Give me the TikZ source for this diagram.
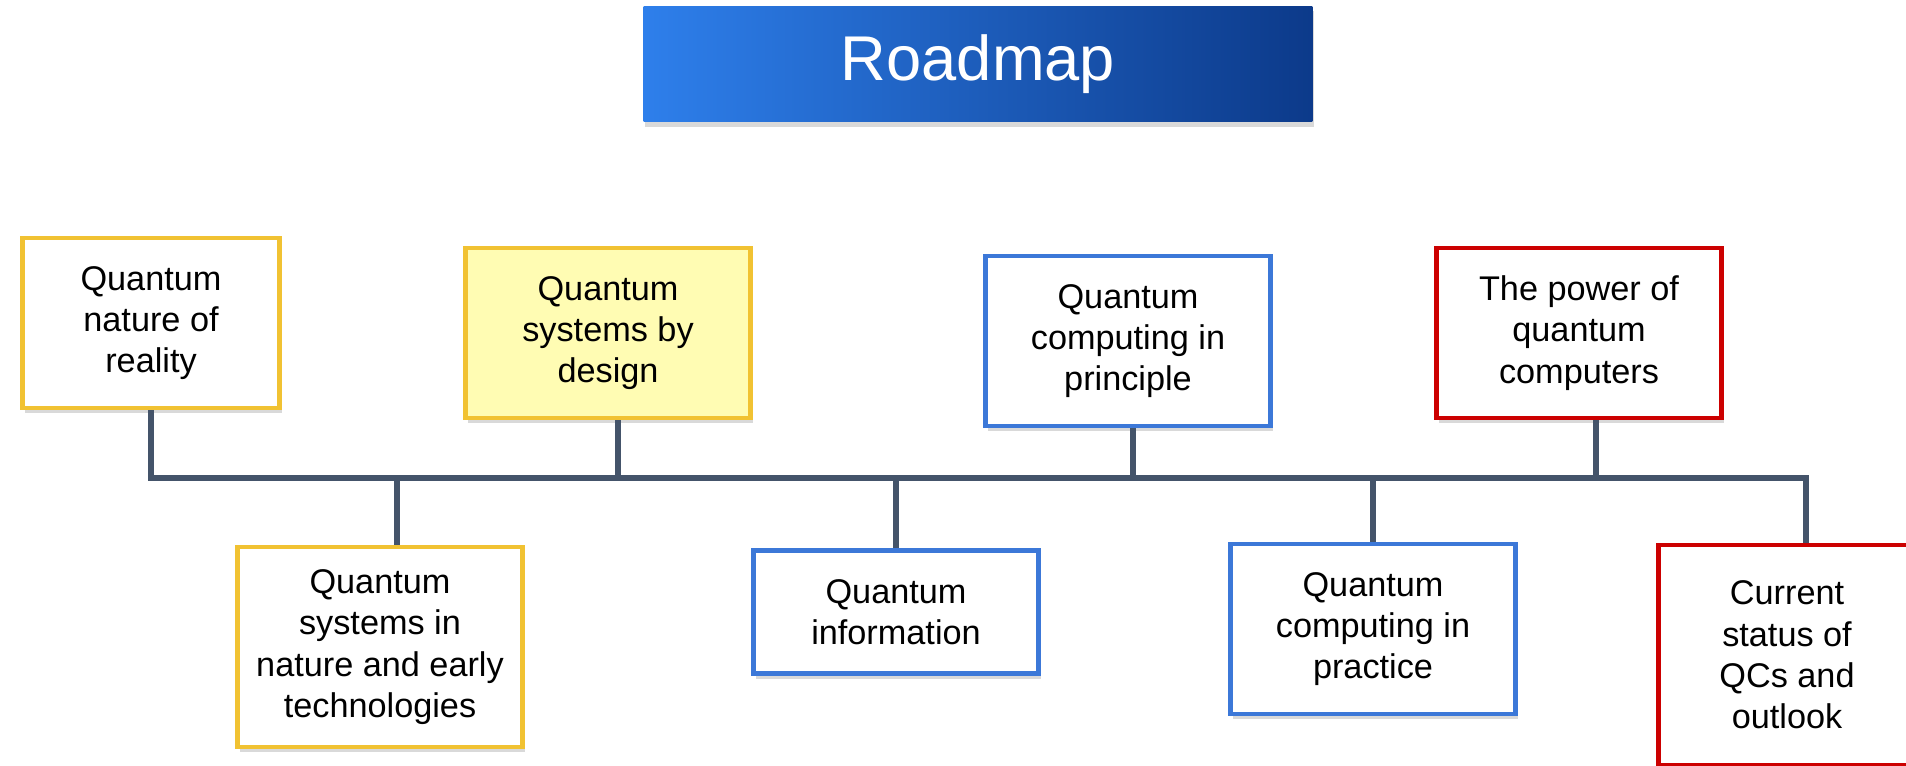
\documentclass[tikz,border=0pt]{standalone}
\usepackage{fontspec}
\setmainfont{Liberation Sans}
\usetikzlibrary{shadows}

\definecolor{roadgold}{HTML}{F1C232}
\definecolor{roadpale}{HTML}{FFFCB3}
\definecolor{roadblue}{HTML}{3C78D8}
\definecolor{roadred}{HTML}{CC0000}
\definecolor{roadslate}{HTML}{44546A}
\definecolor{titlelight}{HTML}{2E7FEB}
\definecolor{titlemid}{HTML}{2569D6}
\definecolor{titledark}{HTML}{0C3A8A}

\tikzset{
    topic/.style={draw, line width=2.8pt, fill=white, align=center, inner sep=0pt,
        minimum width=5.7cm, minimum height=3.4cm,
        font=\fontsize{19.5}{23.5}\selectfont,
        drop shadow={opacity=0.3, shadow xshift=1.5pt, shadow yshift=-3pt}},
    goldbox/.style={topic, draw=roadgold},
    bluebox/.style={topic, draw=roadblue},
    redbox/.style={topic, draw=roadred},
    link/.style={draw=roadslate, line width=3.5pt}
}

\begin{document}
\begin{tikzpicture}[x=0.02cm, y=-0.02cm]
    \useasboundingbox (0,0) rectangle (1906,765);

    % Title
    \node[shading=axis, left color=titlelight, middle color=titlemid, right color=titledark,
        minimum width=13.38cm, minimum height=2.32cm, text=white,
        font=\fontsize{36}{40}\selectfont,
        drop shadow={opacity=0.3, shadow xshift=1pt, shadow yshift=-3pt}]
        (title) at (978,64) {Roadmap};

    % Upper row
    \node[goldbox, minimum width=5.15cm] (nature) at (151,323) {Quantum\\nature of\\reality};
    \node[goldbox, fill=roadpale] (design) at (608,333) {Quantum\\systems by\\design};
    \node[bluebox] (principle) at (1128,341) {Quantum\\computing in\\principle};
    \node[redbox] (power) at (1579,333) {The power of\\quantum\\computers};

    % Lower row
    \node[goldbox, minimum height=4.0cm] (early) at (380,647) {Quantum\\systems in\\nature and early\\technologies};
    \node[bluebox, minimum height=2.45cm] (info) at (896,612) {Quantum\\information};
    \node[bluebox] (practice) at (1373,629) {Quantum\\computing in\\practice};
    \node[redbox, minimum width=5.15cm, minimum height=4.4cm] (outlook) at (1787,655) {Current\\status of\\QCs and\\outlook};

    % Timeline
    \coordinate (busend) at (1806,478);
    \coordinate (designtap) at ([xshift=0.2cm]design.south);
    \coordinate (principletap) at ([xshift=0.1cm]principle.south);
    \coordinate (powertap) at ([xshift=0.34cm]power.south);
    \coordinate (earlytap) at ([xshift=0.34cm]early.north);
    \draw[link] (nature.south) |- (busend) -- (busend |- outlook.north);
    \draw[link] (designtap) -- (designtap |- busend);
    \draw[link] (principletap) -- (principletap |- busend);
    \draw[link] (powertap) -- (powertap |- busend);
    \draw[link] (earlytap) -- (earlytap |- busend);
    \draw[link] (info.north) -- (info.north |- busend);
    \draw[link] (practice.north) -- (practice.north |- busend);
\end{tikzpicture}
\end{document}
